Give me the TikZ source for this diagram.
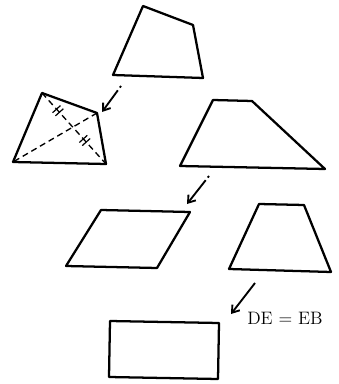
\documentclass[tikz,border=0pt]{standalone}
\usepackage{tikz}
\usetikzlibrary{arrows.meta,decorations.markings}

\begin{document}
\begin{tikzpicture}[
    x=0.75pt, y=-0.75pt,
    outline/.style={draw=black, line width=1.7pt, line join=round},
    diag/.style={black, line width=1pt, dash pattern=on 4.5pt off 3pt},
    ticked/.style={postaction={decorate}, decoration={markings,
        mark=at position #1 with {\draw[solid, line width=0.9pt] (-1.6pt,-4pt) -- (-1.6pt,4pt) (1.6pt,-4pt) -- (1.6pt,4pt);}}},
    move/.style={-{Straight Barb[length=5pt,width=7pt]}, line width=1.4pt},
    broken/.style={dash pattern=on 1.5pt off 2.5pt on 60pt}
]
\useasboundingbox (0,0) rectangle (338,384);

% Quadrilateral
\coordinate (qA) at (143,6);
\coordinate (qB) at (193,25);
\coordinate (qC) at (203,78);
\coordinate (qD) at (113,75);
\draw[outline] (qA) -- (qB) -- (qC) -- (qD) -- cycle;

% Quadrilateral with diagonals
\coordinate (kA) at (42,93);
\coordinate (kB) at (97,113);
\coordinate (kC) at (106,164);
\coordinate (kD) at (13,162);
\draw[outline] (kA) -- (kB) -- (kC) -- (kD) -- cycle;
\draw[diag, ticked=0.25] (kA) -- (kC);
\path[ticked=0.67] (kA) -- (kC);
\draw[diag] (kB) -- (kD);

% Trapezoid
\coordinate (tA) at (213,100);
\coordinate (tB) at (252,101);
\coordinate (tC) at (325,169);
\coordinate (tD) at (180,166);
\draw[outline] (tA) -- (tB) -- (tC) -- (tD) -- cycle;

% Parallelogram
\coordinate (pA) at (101,210);
\coordinate (pB) at (190,212);
\coordinate (pC) at (157,268);
\coordinate (pD) at (66,266);
\draw[outline] (pA) -- (pB) -- (pC) -- (pD) -- cycle;

% Isosceles trapezoid
\coordinate (iA) at (259,204);
\coordinate (iB) at (304,205);
\coordinate (iC) at (331,272);
\coordinate (iD) at (229,269);
\draw[outline] (iA) -- (iB) -- (iC) -- (iD) -- cycle;

% Rectangle
\coordinate (rA) at (110,321);
\coordinate (rB) at (219,323);
\coordinate (rC) at (218,379);
\coordinate (rD) at (109,377);
\draw[outline] (rA) -- (rB) -- (rC) -- (rD) -- cycle;

% Arrows
\coordinate (a1s) at (121,86);
\coordinate (a1e) at (102,112);
\coordinate (a2s) at (209,176);
\coordinate (a2e) at (187,204);
\coordinate (a3s) at (255,283);
\coordinate (a3e) at (231,314);
\draw[move, broken] (a1s) -- (a1e);
\draw[move, broken] (a2s) -- (a2e);
\draw[move] (a3s) -- (a3e);

\node[anchor=west, inner sep=0pt, font=\fontsize{13.5}{15}\selectfont] (cond) at (247,318) {DE = EB};

\end{tikzpicture}
\end{document}
